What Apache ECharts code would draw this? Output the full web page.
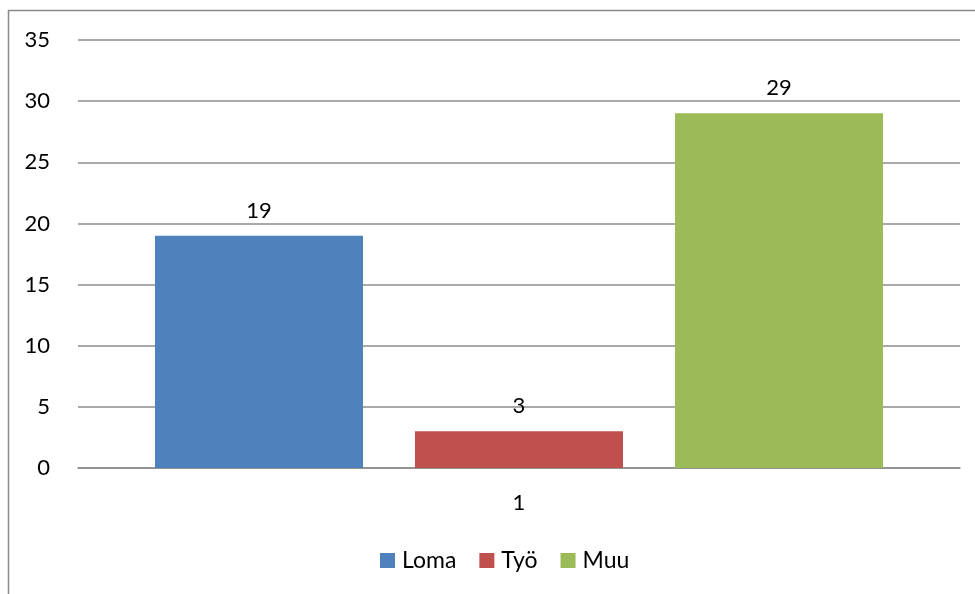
<!DOCTYPE html>
<html>
<head>
<meta charset="utf-8">
<style>
  html, body { margin: 0; padding: 0; background: #fff; }
  #chart { width: 975px; height: 594px; }
</style>
<script src="https://cdn.jsdelivr.net/npm/echarts@6/dist/echarts.min.js"></script>
</head>
<body>
<div id="chart"></div>
<script>
// Category axis and series values
const categories = ['1'];
const seriesNames = ['Loma', 'Työ', 'Muu'];
const lomaValues = [19];
const tyoValues = [3];
const muuValues = [29];
const seriesColors = ['#4f81bd', '#c0504d', '#9bbb59'];

const FONT = 'Lato, "Open Sans", sans-serif';

const chart = echarts.init(document.getElementById('chart'), null, { renderer: 'canvas' });

const valueSets = [lomaValues, tyoValues, muuValues];
const series = seriesNames.map((name, i) => ({
  name: name,
  type: 'bar',
  data: valueSets[i],
  barWidth: 208,
  barGap: '25%',
  itemStyle: { color: seriesColors[i] },
  label: {
    show: true,
    position: 'top',
    distance: 14,
    color: '#000',
    fontFamily: FONT,
    fontSize: 22
  }
}));

chart.setOption({
  animation: false,
  backgroundColor: '#fff',
  graphic: [{
    type: 'polyline',
    shape: { points: [[8.5, 700], [8.5, 10.5], [1000, 10.5]] },
    style: { stroke: '#8a8a8a', lineWidth: 1.5, fill: null },
    silent: true
  }],
  grid: { left: 78, right: 15, top: 40, bottom: 126, containLabel: false },
  legend: {
    data: seriesNames,
    bottom: 17,
    left: 375,
    itemWidth: 15,
    itemHeight: 15,
    itemGap: 23,
    icon: 'rect',
    textStyle: { fontFamily: FONT, fontSize: 23, color: '#000', padding: [0, 0, 0, 2] }
  },
  xAxis: {
    type: 'category',
    data: categories,
    axisLine: { show: true, lineStyle: { color: '#8c8c8c', width: 1.5 } },
    axisTick: { show: false },
    axisLabel: { fontFamily: FONT, fontSize: 22, color: '#000', margin: 24 }
  },
  yAxis: {
    type: 'value',
    min: 0,
    max: 35,
    interval: 5,
    axisLine: { show: false },
    axisTick: { show: false },
    axisLabel: { fontFamily: FONT, fontSize: 22, color: '#000', margin: 28 },
    splitLine: { lineStyle: { color: '#8c8c8c', width: 1.5 } }
  },
  series: series
});
</script>
</body>
</html>
